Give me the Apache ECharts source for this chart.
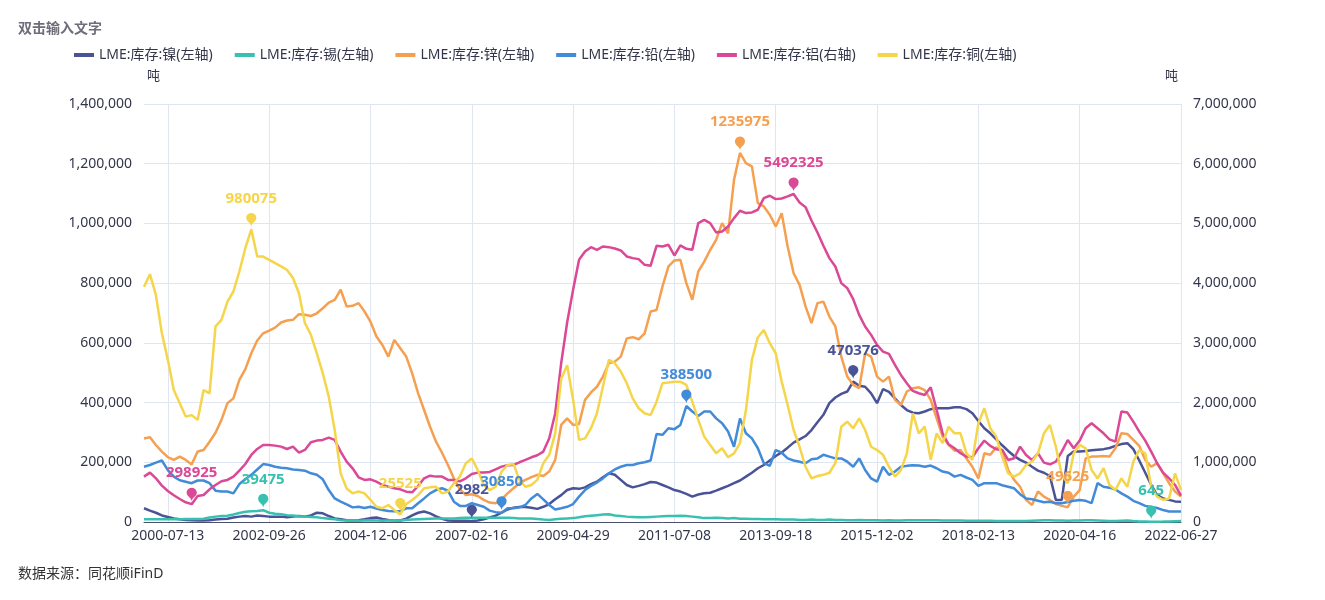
<!DOCTYPE html>
<html><head><meta charset="utf-8">
<script src="https://cdn.jsdelivr.net/npm/echarts@6/dist/echarts.min.js"></script>
<style>html,body{margin:0;padding:0;background:#fff}#c{width:1325px;height:600px}</style>
</head><body><div id="c"></div>
<script>
const TICKS = ['2000-07-13','2002-09-26','2004-12-06','2007-02-16','2009-04-29','2011-07-08','2013-09-18','2015-12-02','2018-02-13','2020-04-16','2022-06-27'];
const PER = 17, LEAD = 4;
const names = ['LME:库存:镍(左轴)','LME:库存:锡(左轴)','LME:库存:锌(左轴)','LME:库存:铅(左轴)','LME:库存:铝(右轴)','LME:库存:铜(左轴)'];
const colors = ['#4a5396','#38c0b0','#f5a050','#428bd8','#da4896','#f5d54a'];

const nickel = [46000,38000,31000,22000,17000,12000,9000,7000,6000,5000,5000,6000,8000,10000,11000,15000,18000,20000,18000,22000,20000,18000,18000,18000,16000,18000,20000,18000,22000,31000,29000,20000,12000,9000,6000,5000,6000,9000,13000,15000,10000,7000,6000,5000,
11000,22000,31000,35000,29000,19000,11000,5000,4000,4000,4000,2982,5000,9000,15000,21000,31000,42000,48000,50000,50000,48000,44000,51000,60000,76000,90000,107000,113000,111000,116000,127000,135000,150000,163000,158000,141000,124000,116000,121000,127000,134000,132000,124000,
116000,107000,102000,94000,85000,92000,96000,98000,105000,113000,121000,130000,139000,152000,165000,180000,191000,206000,221000,233000,249000,266000,277000,288000,308000,334000,359000,398000,417000,429000,437000,470376,456000,453000,431000,398000,445000,436000,414000,392000,375000,366000,364000,370000,
378000,381000,381000,381000,384000,384000,378000,364000,338000,314000,297000,277000,257000,238000,221000,208000,199000,185000,172000,165000,154000,74000,74000,221000,236000,236000,238000,240000,242000,244000,248000,255000,261000,264000,244000,206000,165000,124000,90000,79000,74000,69000,68000];

const tin = [9000,9000,9000,9000,9000,9000,9000,10000,10000,10000,11000,15000,18000,20000,21000,25000,30000,34000,36000,37000,39475,31000,28000,26000,23000,22000,19000,18000,17000,16000,13000,11000,9000,6000,5000,5000,4000,5000,6000,5000,4000,5000,6000,5000,
7000,8000,9000,10000,11000,12000,12000,12000,12000,13000,14000,14000,14000,14000,14000,14000,14000,14000,13000,12000,12000,12000,10000,8000,7000,9000,11000,12000,13000,16000,19000,21000,23000,25000,26000,22000,20000,18000,17000,16000,16000,17000,18000,19000,
20000,20000,21000,20000,18000,16000,13000,13000,14000,13000,12000,13000,11000,11000,10000,10000,9000,9000,9000,8000,8000,8000,7000,7000,8000,7000,7000,8000,7000,7000,6000,6000,7000,6000,6000,6000,5000,6000,5000,5000,6000,6000,6000,6000,
6000,6000,5000,5000,5000,5000,4000,4000,4000,4000,4000,3000,3000,3000,3000,3000,3000,4000,5000,6000,6000,5000,5000,4000,5000,5000,6000,6000,5000,4000,3000,3000,4000,5000,3000,2000,1500,645,1200,1500,2000,2500,3000];

const zinc = [280000,284000,258000,236000,217000,208000,219000,208000,193000,236000,241000,269000,299000,342000,398000,414000,476000,512000,565000,608000,632000,641000,651000,668000,675000,677000,696000,694000,690000,699000,716000,735000,744000,778000,722000,724000,733000,705000,671000,621000,593000,554000,610000,582000,
554000,498000,431000,375000,319000,269000,232000,191000,146000,109000,90000,93000,87000,74000,65000,63000,76000,96000,113000,130000,141000,150000,158000,154000,169000,208000,325000,347000,325000,328000,409000,434000,453000,487000,532000,537000,554000,615000,619000,612000,632000,705000,710000,789000,
856000,876000,878000,800000,744000,839000,872000,911000,945000,1001000,967000,1146000,1235975,1202000,1191000,1068000,1057000,1029000,990000,1034000,923000,833000,794000,722000,666000,733000,738000,688000,655000,554000,487000,459000,448000,565000,554000,487000,470000,487000,409000,392000,437000,448000,451000,442000,
409000,347000,286000,258000,239000,241000,213000,185000,146000,230000,225000,250000,241000,174000,141000,118000,74000,57000,102000,85000,74000,60000,54000,49625,85000,107000,213000,219000,219000,221000,219000,247000,297000,295000,275000,255000,208000,185000,197000,163000,130000,102000,85000];

const lead = [185000,191000,199000,206000,174000,152000,140000,135000,130000,139000,139000,130000,105000,102000,102000,96000,127000,143000,158000,176000,194000,191000,185000,182000,180000,176000,174000,172000,163000,158000,143000,107000,79000,68000,59000,49000,51000,47000,51000,45000,40000,37000,36000,36000,
46000,46000,63000,79000,96000,107000,113000,105000,68000,54000,54000,63000,57000,51000,38000,33000,30850,46000,46000,49000,57000,79000,94000,76000,57000,42000,46000,51000,60000,85000,107000,121000,132000,146000,163000,176000,185000,191000,191000,197000,200000,206000,295000,292000,
314000,311000,325000,388500,370000,355000,370000,370000,347000,331000,303000,252000,347000,297000,280000,247000,197000,188000,241000,232000,213000,206000,202000,197000,210000,213000,225000,219000,213000,213000,202000,185000,213000,174000,146000,135000,185000,158000,169000,185000,188000,190000,189000,185000,
189000,180000,169000,165000,152000,158000,149000,141000,121000,130000,130000,130000,123000,118000,113000,93000,79000,76000,71000,66000,68000,63000,63000,67000,71000,74000,71000,63000,130000,118000,115000,109000,96000,85000,71000,63000,54000,50000,47000,40000,35000,35000,35000];

const aluminium = [760000,827000,732000,609000,519000,447000,385000,330000,298925,436000,452000,547000,620000,682000,704000,760000,860000,972000,1123000,1223000,1290000,1290000,1279000,1262000,1223000,1262000,1162000,1207000,1335000,1363000,1374000,1413000,1374000,1179000,1011000,899000,749000,704000,715000,676000,620000,592000,564000,547000,
508000,497000,603000,732000,776000,760000,760000,704000,704000,682000,732000,804000,827000,827000,838000,883000,927000,950000,955000,1000000,1039000,1084000,1117000,1179000,1402000,1821000,2659000,3340000,3888000,4391000,4530000,4603000,4558000,4614000,4603000,4581000,4547000,4447000,4419000,4402000,4307000,4290000,4625000,4614000,
4642000,4463000,4631000,4575000,4558000,5005000,5061000,5005000,4849000,4865000,4949000,5089000,5212000,5173000,5184000,5229000,5424000,5463000,5407000,5418000,5452000,5492325,5351000,5273000,5050000,4849000,4625000,4419000,4279000,4000000,3916000,3731000,3469000,3273000,3134000,2966000,2854000,2815000,2631000,2463000,2324000,2195000,2156000,2128000,
2257000,1877000,1486000,1302000,1235000,1151000,1095000,1084000,1235000,1363000,1274000,1218000,1207000,1039000,1067000,1262000,1123000,1039000,1151000,994000,966000,1011000,1179000,1374000,1235000,1363000,1570000,1653000,1570000,1486000,1385000,1346000,1849000,1832000,1681000,1514000,1363000,1179000,983000,827000,732000,620000,440000];

const copper = [788000,830000,760000,632000,543000,442000,398000,353000,358000,342000,442000,431000,655000,677000,738000,772000,839000,917000,980075,889000,889000,878000,867000,856000,844000,817000,766000,666000,627000,565000,498000,420000,308000,163000,112000,96000,102000,96000,74000,51000,46000,57000,40000,25525,
60000,74000,90000,113000,116000,118000,96000,102000,130000,152000,197000,213000,174000,124000,107000,118000,169000,191000,194000,141000,118000,124000,141000,197000,225000,297000,480000,525000,409000,275000,280000,314000,364000,453000,543000,532000,504000,465000,414000,381000,364000,358000,403000,465000,
467000,470000,470000,459000,403000,342000,286000,258000,230000,247000,217000,230000,264000,375000,543000,619000,643000,599000,565000,470000,392000,308000,252000,185000,146000,154000,158000,165000,197000,319000,336000,314000,347000,308000,252000,241000,225000,185000,152000,174000,230000,364000,297000,320000,
208000,297000,264000,319000,297000,297000,230000,208000,331000,381000,314000,286000,219000,163000,152000,163000,191000,202000,230000,297000,325000,252000,158000,130000,230000,258000,247000,174000,146000,180000,124000,107000,146000,118000,202000,241000,230000,118000,85000,74000,79000,163000,107000];

const leftTicks = {min: 0, max: 1400000, interval: 200000};
const rightTicks = {min: 0, max: 7000000, interval: 1000000};

function ymd(t){return new Date(t).toISOString().slice(0,10);}
const categories = [];
(function(){
  const a0 = Date.parse(TICKS[0]), a1 = Date.parse(TICKS[1]);
  for (let k = LEAD; k > 0; k--) categories.push(ymd(a0 - (a1 - a0) * k / PER));
  for (let j = 0; j < TICKS.length - 1; j++) {
    const a = Date.parse(TICKS[j]), b = Date.parse(TICKS[j+1]);
    for (let k = 0; k < PER; k++) categories.push(k === 0 ? TICKS[j] : ymd(a + (b - a) * k / PER));
  }
  categories.push(TICKS[TICKS.length-1]);
})();
const tickAt = (idx) => idx >= LEAD && (idx - LEAD) % PER === 0;

const FONT = '"Noto Sans", "Noto Sans CJK SC", sans-serif';
const fmt = v => Number(v).toLocaleString('en-US');
const seriesData = [nickel, tin, zinc, lead, aluminium, copper];
const axisIdx = [0,0,0,0,1,0];
const TXT = '#33364a';

const chart = echarts.init(document.getElementById('c'), null, {renderer:'canvas'});
chart.setOption({
  animation: false,
  textStyle: {fontFamily: FONT},
  color: colors,
  title: [
    {text: '双击输入文字', left: 13, top: 17, textStyle: {fontSize: 14, fontWeight: 'bold', color: '#6e6e7a', fontFamily: FONT}},
    {text: '数据来源：同花顺iFinD', left: 13, top: 562, textStyle: {fontSize: 14, fontWeight: 'normal', color: '#333', fontFamily: FONT}}
  ],
  legend: {
    left: 69, top: 43, icon: 'rect', itemWidth: 20, itemHeight: 4, itemGap: 22,
    textStyle: {fontSize: 14, color: TXT, fontFamily: FONT},
    data: names
  },
  grid: {left: 144, right: 144, top: 104, bottom: 78, containLabel: false},
  xAxis: {
    type: 'category', boundaryGap: false, data: categories,
    axisLine: {lineStyle: {color: '#4a4f6a', width: 1}},
    axisTick: {show: false, interval: (i) => tickAt(i)},
    axisLabel: {interval: (i) => tickAt(i), color: TXT, fontSize: 14, margin: 7, fontFamily: FONT},
    splitLine: {show: true, interval: (i) => tickAt(i), lineStyle: {color: '#e0e6f1'}}
  },
  yAxis: [
    {type: 'value', name: '吨', nameLocation: 'end', nameGap: 21,
     nameTextStyle: {color: TXT, fontSize: 13, align: 'left', padding: [0, 0, 0, 3]},
     min: leftTicks.min, max: leftTicks.max, interval: leftTicks.interval,
     axisLine: {show: false}, axisTick: {show: false},
     axisLabel: {color: TXT, fontSize: 14, margin: 12, formatter: fmt},
     splitLine: {lineStyle: {color: '#e0e6f1'}}},
    {type: 'value', name: '吨', nameLocation: 'end', nameGap: 21,
     nameTextStyle: {color: TXT, fontSize: 13, align: 'right', padding: [0, 3, 0, 0]},
     min: rightTicks.min, max: rightTicks.max, interval: rightTicks.interval,
     axisLine: {show: false}, axisTick: {show: false},
     axisLabel: {color: TXT, fontSize: 14, margin: 12, formatter: fmt},
     splitLine: {show: false}}
  ],
  series: seriesData.map((d, k) => ({
    name: names[k], type: 'line', yAxisIndex: axisIdx[k], data: d,
    showSymbol: false, symbol: 'none',
    lineStyle: {width: 2.5, color: colors[k]}, itemStyle: {color: colors[k]},
    markPoint: {
      symbol: 'pin', symbolSize: [17, 16], symbolOffset: [0, -2.5],
      itemStyle: {color: colors[k]},
      label: {show: true, position: 'top', distance: 7, color: colors[k], fontSize: 15, fontWeight: 'bold',
              fontFamily: FONT, formatter: p => String(p.value)},
      data: [{type: 'max'}, {type: 'min'}]
    }
  }))
});
</script></body></html>
